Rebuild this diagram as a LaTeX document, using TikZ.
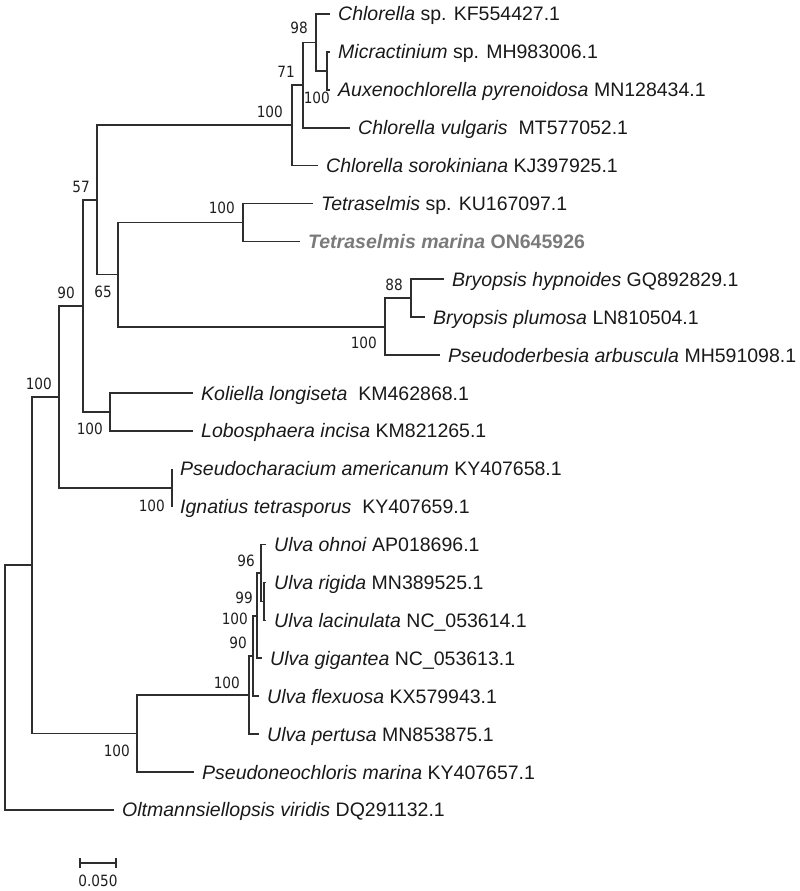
\documentclass[tikz,border=0pt]{standalone}
\usepackage{fontspec}
\setmainfont{Liberation Sans}
\newfontfamily\bsfont[FakeStretch=0.88]{DejaVu Sans}
\begin{document}
\begin{tikzpicture}[x=1pt,y=-1pt,
  br/.style={line width=1.7pt, draw=black!82},
  leaf/.style={anchor=west, inner xsep=8pt, inner ysep=0pt, text height=15.5pt, text depth=1.5pt,
               font=\fontsize{19.5}{20}\selectfont, text=black!90},
  bs/.style={anchor=east, inner sep=0pt, text height=11.3pt, text depth=0pt,
             font=\bsfont\fontsize{15.5}{16}\selectfont, text=black!88},
  sel/.style={leaf, text=black!52, font=\fontsize{19.5}{20}\selectfont\bfseries}]
\useasboundingbox (0,0) rectangle (800,891);

% internal nodes
\coordinate (R)  at (5,687.54);
\coordinate (A)  at (32,565.18);
\coordinate (B)  at (59,396.85);
\coordinate (C)  at (83,305.95);
\coordinate (D)  at (97,199.95);
\coordinate (E)  at (292,125.33);
\coordinate (G)  at (303,85.06);
\coordinate (H)  at (316,42.43);
\coordinate (I)  at (327,70.85);
\coordinate (F)  at (118,274.56);
\coordinate (T)  at (243,222.45);
\coordinate (BP) at (385,326.68);
\coordinate (BB) at (411,298.25);
\coordinate (KL) at (110,411.95);
\coordinate (PI) at (172,487.75);
\coordinate (U)  at (137,733.5);
\coordinate (U2) at (249,695.01);
\coordinate (U3) at (253,655.93);
\coordinate (U4) at (257,615.66);
\coordinate (U5) at (261,573.03);
\coordinate (U6) at (264,601.45);

% leaves
\node[leaf] (l1)  at (330,14.0)  {\textit{Chlorella} sp. KF554427.1};
\node[leaf] (l2)  at (330,51.9)  {\textit{Micractinium} sp. MH983006.1};
\node[leaf] (l3)  at (330,89.8)  {\textit{Auxenochlorella pyrenoidosa} MN128434.1};
\node[leaf] (l4)  at (350,127.7) {\textit{Chlorella vulgaris}\ \ MT577052.1};
\node[leaf] (l5)  at (318,165.6) {\textit{Chlorella sorokiniana} KJ397925.1};
\node[leaf] (l6)  at (313,203.5) {\textit{Tetraselmis} sp. KU167097.1};
\node[sel]  (l7)  at (300,241.4) {\textit{Tetraselmis marina} ON645926};
\node[leaf] (l8)  at (444,279.3) {\textit{Bryopsis hypnoides} GQ892829.1};
\node[leaf] (l9)  at (425,317.2) {\textit{Bryopsis plumosa} LN810504.1};
\node[leaf] (l10) at (440,355.1) {\textit{Pseudoderbesia arbuscula} MH591098.1};
\node[leaf] (l11) at (193,393.0) {\textit{Koliella longiseta}\ \ KM462868.1};
\node[leaf] (l12) at (193,430.9) {\textit{Lobosphaera incisa} KM821265.1};
\node[leaf] (l13) at (172,468.8) {\textit{Pseudocharacium americanum} KY407658.1};
\node[leaf] (l14) at (172,506.7) {\textit{Ignatius tetrasporus}\ \ KY407659.1};
\node[leaf] (l15) at (266,544.6) {\textit{Ulva ohnoi} AP018696.1};
\node[leaf] (l16) at (266,582.5) {\textit{Ulva rigida} MN389525.1};
\node[leaf] (l17) at (266,620.4) {\textit{Ulva lacinulata} NC\_053614.1};
\node[leaf] (l18) at (262,658.3) {\textit{Ulva gigantea} NC\_053613.1};
\node[leaf] (l19) at (259,696.2) {\textit{Ulva flexuosa} KX579943.1};
\node[leaf] (l20) at (259,734.1) {\textit{Ulva pertusa} MN853875.1};
\node[leaf] (l21) at (194,772.0) {\textit{Pseudoneochloris marina} KY407657.1};
\node[leaf] (l22) at (114,809.9) {\textit{Oltmannsiellopsis viridis} DQ291132.1};

% branches
\draw[br] (R) |- (A);
\draw[br] (R) |- (l22.west);
\draw[br] (A) |- (B);
\draw[br] (A) |- (U);
\draw[br] (B) |- (C);
\draw[br] (B) |- (PI);
\draw[br] (C) |- (D);
\draw[br] (C) |- (KL);
\draw[br] (D) |- (E);
\draw[br] (D) |- (F);
\draw[br] (E) |- (G);
\draw[br] (E) |- (l5.west);
\draw[br] (G) |- (H);
\draw[br] (G) |- (l4.west);
\draw[br] (H) |- (l1.west);
\draw[br] (H) |- (I);
\draw[br] (I) |- (l2.west);
\draw[br] (I) |- (l3.west);
\draw[br] (F) |- (T);
\draw[br] (F) |- (BP);
\draw[br] (T) |- (l6.west);
\draw[br] (T) |- (l7.west);
\draw[br] (BP) |- (BB);
\draw[br] (BP) |- (l10.west);
\draw[br] (BB) |- (l8.west);
\draw[br] (BB) |- (l9.west);
\draw[br] (KL) |- (l11.west);
\draw[br] (KL) |- (l12.west);
\draw[br] (PI) |- (l13.west);
\draw[br] (PI) |- (l14.west);
\draw[br] (U) |- (U2);
\draw[br] (U) |- (l21.west);
\draw[br] (U2) |- (U3);
\draw[br] (U2) |- (l20.west);
\draw[br] (U3) |- (U4);
\draw[br] (U3) |- (l19.west);
\draw[br] (U4) |- (U5);
\draw[br] (U4) |- (l18.west);
\draw[br] (U5) |- (l15.west);
\draw[br] (U5) |- (U6);
\draw[br] (U6) |- (l16.west);
\draw[br] (U6) |- (l17.west);

% bootstrap values
\node[bs] (bB)  at (52,384)  {100};
\node[bs] (bC)  at (75,293)  {90};
\node[bs] (bD)  at (90,187)  {57};
\node[bs] (bE)  at (283,112) {100};
\node[bs] (bG)  at (295,72)  {71};
\node[bs] (bH)  at (308,28)  {98};
\node[bs] (bI)  at (330,98)  {100};
\node[bs] (bF)  at (112,292) {65};
\node[bs] (bT)  at (235,208) {100};
\node[bs] (bBP) at (377,343) {100};
\node[bs] (bBB) at (403,285) {88};
\node[bs] (bKL) at (103,429) {100};
\node[bs] (bPI) at (165,506) {100};
\node[bs] (bU)  at (130,751) {100};
\node[bs] (bU2) at (240,683) {100};
\node[bs] (bU3) at (247,643) {90};
\node[bs] (bU4) at (248,619) {100};
\node[bs] (bU5) at (255,561) {96};
\node[bs] (bU6) at (253,598) {99};

% scale bar
\coordinate (sb1) at (80,863);
\coordinate (sb2) at (116,863);
\draw[br, line width=1.5pt] (sb1) -- (sb2);
\draw[br, line width=1.5pt] ([yshift=5pt]sb1) -- ([yshift=-5pt]sb1);
\draw[br, line width=1.5pt] ([yshift=5pt]sb2) -- ([yshift=-5pt]sb2);
\node[bs, anchor=center] (sbl) at (98,881) {0.050};
\end{tikzpicture}
\end{document}
